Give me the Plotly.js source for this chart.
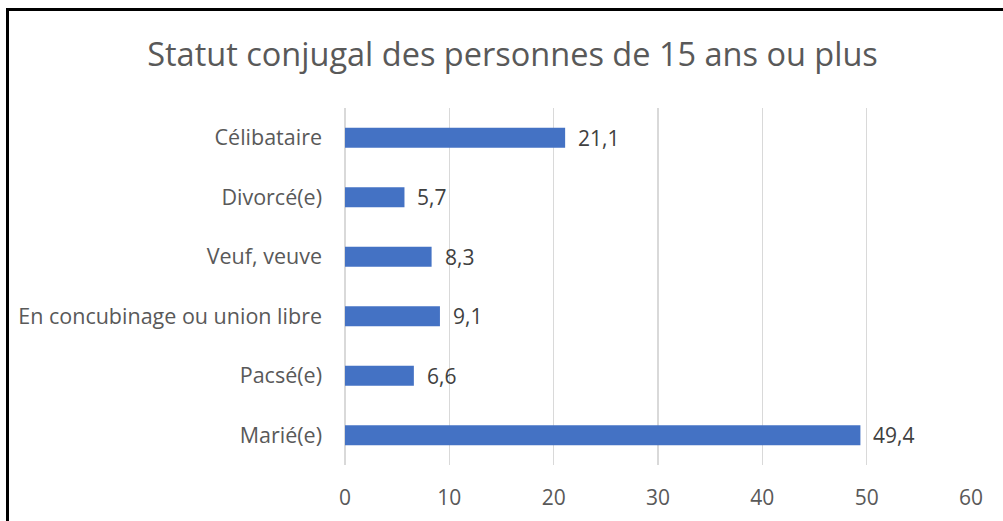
<!DOCTYPE html>
<html>
<head>
<meta charset="utf-8">
<script src="https://cdn.plot.ly/plotly-3.0.1.min.js"></script>
<style>
  body { margin: 0; background: #fff; }
  #graphique { width: 1003px; height: 521px; }
  #cadre { position: absolute; left: 6px; top: 8px; width: 1010px; height: 530px;
           border-left: 3px solid #000; border-top: 3px solid #000; pointer-events: none; }
</style>
</head>
<body>
<div id="graphique"></div>
<div id="cadre"></div>
<script>
// Statut conjugal (haut -> bas)
var statuts = ["Célibataire", "Divorcé(e)", "Veuf, veuve", "En concubinage ou union libre", "Pacsé(e)", "Marié(e)"];
var pourcentages = [21.1, 5.7, 8.3, 9.1, 6.6, 49.4];
var etiquettes = ["21,1", "5,7", "8,3", "9,1", "6,6", "49,4"];
var ticksX = [0, 10, 20, 30, 40, 50, 60];

var data = [{
    type: "bar",
    orientation: "h",
    x: pourcentages,
    y: statuts,
    marker: {color: "#4472C4"},
    hoverinfo: "none"
}];

// etiquettes de valeur a droite des barres
var annotations = [];
for (var i = 0; i < statuts.length; i++) {
    annotations.push({
        x: pourcentages[i], y: statuts[i],
        text: etiquettes[i],
        showarrow: false,
        xanchor: "left",
        xshift: 11,
        font: {family: "Open Sans", size: 21, color: "#404040"}
    });
}

var layout = {
    width: 1003,
    height: 521,
    margin: {l: 345, r: 32, t: 108, b: 56},
    paper_bgcolor: "#fff",
    plot_bgcolor: "#fff",
    title: {
        text: "Statut conjugal des personnes de 15 ans ou plus",
        font: {family: "Open Sans", size: 32.5, color: "#595959"},
        x: 0.511, xanchor: "center",
        y: 0.895, yanchor: "middle"
    },
    xaxis: {
        range: [0, 60],
        tickvals: ticksX,
        ticktext: ticksX.map(String),
        showgrid: true,
        gridcolor: "#d9d9d9",
        gridwidth: 1.5,
        zeroline: true,
        zerolinecolor: "#d9d9d9",
        zerolinewidth: 1.5,
        showline: false,
        ticks: "",
        ticklabelstandoff: 18,
        tickfont: {family: "Open Sans", size: 21, color: "#595959"},
        fixedrange: true
    },
    yaxis: {
        type: "category",
        autorange: "reversed",
        showgrid: false,
        showline: false,
        ticks: "",
        ticklabelstandoff: 22,
        tickfont: {family: "Open Sans", size: 21.5, color: "#595959"},
        fixedrange: true
    },
    bargap: 0.665,
    showlegend: false,
    annotations: annotations
};

Plotly.newPlot("graphique", data, layout, {displayModeBar: false, staticPlot: true});
</script>
</body>
</html>
